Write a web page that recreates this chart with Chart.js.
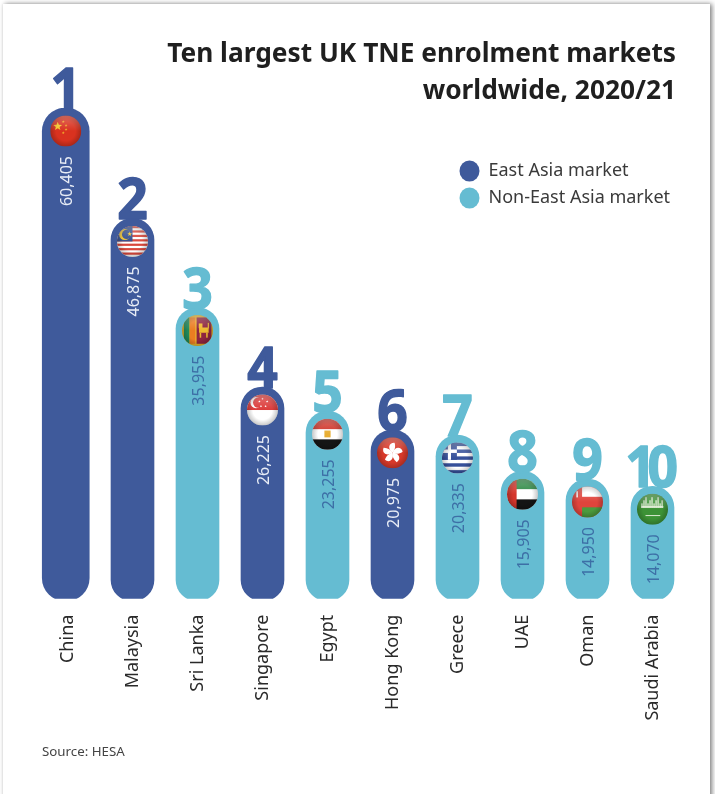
<!DOCTYPE html>
<html>
<head>
<meta charset="utf-8">
<title>Ten largest UK TNE enrolment markets worldwide, 2020/21</title>
<script src="https://cdn.jsdelivr.net/npm/chart.js@4"></script>
<style>
  html, body { margin: 0; padding: 0; background: #fff; overflow: hidden; }
  #stage { position: relative; width: 715px; height: 794px; overflow: hidden; }
  #sheet { position: absolute; left: 3px; top: 4px; width: 707px; height: 900px; background: #fff;
           box-shadow: 2px 0 5px rgba(0,0,0,.5), 0 0 2px rgba(0,0,0,.06); }
  canvas { position: absolute; left: 0; top: 0; }
</style>
</head>
<body>
<div id="stage">
  <div id="sheet"></div>
  <canvas id="chart" width="715" height="794"></canvas>
</div>
<script>
const categories = ['China', 'Malaysia', 'Sri Lanka', 'Singapore', 'Egypt', 'Hong Kong', 'Greece', 'UAE', 'Oman', 'Saudi Arabia'];
const eastAsia    = [60405, 46875, null, 26225, null, 20975, null, null, null, null];
const nonEastAsia = [null, null, 35955, null, 23255, null, 20335, 15905, 14950, 14070];
const ranks = ['1', '2', '3', '4', '5', '6', '7', '8', '9', '10'];
const titleLines = ['Ten largest UK TNE enrolment markets', 'worldwide, 2020/21'];
const sourceNote = 'Source: HESA';

const DARK = '#3f5a9b';
const LIGHT = '#65bcd2';
const VALUE_ON_LIGHT = '#3d6fa6';
const BODY_FONT = '"Noto Sans", sans-serif';

// Small painters for the round flags; each fills the square -r..r around the origin.
function rect(c, col, x, y, w, h) { c.fillStyle = col; c.fillRect(x, y, w, h); }
function dot(c, col, x, y, r) { c.fillStyle = col; c.beginPath(); c.arc(x, y, r, 0, Math.PI * 2); c.fill(); }
function star(c, col, x, y, r, rot) {
  c.fillStyle = col; c.beginPath();
  for (let i = 0; i < 10; i++) {
    const a = (rot || 0) - Math.PI / 2 + i * Math.PI / 5, q = i % 2 ? r * 0.42 : r;
    c.lineTo(x + q * Math.cos(a), y + q * Math.sin(a));
  }
  c.closePath(); c.fill();
}
const flags = {
  China(c, r) {
    rect(c, '#d9321f', -r, -r, 2 * r, 2 * r);
    star(c, '#f5c62c', -r * 0.52, -r * 0.3, r * 0.3);
    [[-0.16, -0.6], [0.02, -0.36], [0.02, -0.1], [-0.16, 0.12]].forEach(p => star(c, '#f0a92a', p[0] * r, p[1] * r, r * 0.1));
  },
  Malaysia(c, r) {
    rect(c, '#fff', -r, -r, 2 * r, 2 * r);
    for (let i = 0; i < 7; i++) rect(c, '#d8473c', -r, -r + i * 2 * r * 2 / 14, 2 * r, r / 7);
    rect(c, '#36508f', -r, -r, r, r);
    dot(c, '#f1c533', -r * 0.5, -r * 0.45, r * 0.36);
    dot(c, '#36508f', -r * 0.38, -r * 0.45, r * 0.3);
    star(c, '#f1c533', -r * 0.18, -r * 0.48, r * 0.16);
  },
  'Sri Lanka'(c, r) {
    rect(c, '#e9b52c', -r, -r, 2 * r, 2 * r);
    rect(c, '#1f8a5a', -r * 0.88, -r * 0.85, r * 0.36, r * 1.7);
    rect(c, '#ea7d22', -r * 0.5, -r * 0.85, r * 0.36, r * 1.7);
    rect(c, '#8e2440', -r * 0.06, -r * 0.85, r * 0.96, r * 1.7);
    c.fillStyle = '#eeb92f';
    c.fillRect(r * 0.1, -r * 0.2, r * 0.62, r * 0.34);
    c.fillRect(r * 0.14, r * 0.14, r * 0.1, r * 0.32);
    c.fillRect(r * 0.56, r * 0.14, r * 0.1, r * 0.32);
    c.fillRect(r * 0.08, -r * 0.46, r * 0.24, r * 0.3);
    c.fillRect(r * 0.66, -r * 0.5, r * 0.08, r * 0.36);
  },
  Singapore(c, r) {
    rect(c, '#fff', -r, -r, 2 * r, 2 * r);
    rect(c, '#dc3b3a', -r, -r, 2 * r, r);
    dot(c, '#fff', -r * 0.42, -r * 0.48, r * 0.36);
    dot(c, '#dc3b3a', -r * 0.28, -r * 0.48, r * 0.33);
    [[-0.1, -0.72], [0.2, -0.55], [0.1, -0.24], [-0.2, -0.24], [-0.3, -0.55]].forEach(p => star(c, '#fff', p[0] * r + r * 0.1, p[1] * r, r * 0.08));
  },
  Egypt(c, r) {
    rect(c, '#fff', -r, -r, 2 * r, 2 * r);
    rect(c, '#cf3429', -r, -r, 2 * r, r * 0.67);
    rect(c, '#151515', -r, r * 0.33, 2 * r, r * 0.67);
    c.fillStyle = '#e8ae33';
    c.fillRect(-r * 0.2, -r * 0.24, r * 0.4, r * 0.44);
  },
  'Hong Kong'(c, r) {
    rect(c, '#d7392a', -r, -r, 2 * r, 2 * r);
    for (let i = 0; i < 5; i++) {
      c.save(); c.rotate(i * Math.PI * 2 / 5 + 0.2);
      c.fillStyle = '#fff';
      c.beginPath();
      c.moveTo(0, 0);
      c.bezierCurveTo(-r * 0.42, -r * 0.2, -r * 0.34, -r * 0.62, 0, -r * 0.66);
      c.bezierCurveTo(r * 0.14, -r * 0.42, r * 0.1, -r * 0.18, 0, 0);
      c.fill();
      c.restore();
    }
  },
  Greece(c, r) {
    rect(c, '#fff', -r, -r, 2 * r, 2 * r);
    for (let i = 0; i < 5; i++) rect(c, '#36509a', -r, -r + i * 2 * r * 2 / 9, 2 * r, 2 * r / 9);
    const s = 2 * r * 5 / 9;
    rect(c, '#36509a', -r, -r, r * 0.96, s);
    rect(c, '#fff', -r, -r + s * 0.4, r * 0.96, s * 0.2);
    rect(c, '#fff', -r + r * 0.38, -r, r * 0.2, s);
  },
  UAE(c, r) {
    rect(c, '#fff', -r, -r, 2 * r, 2 * r);
    rect(c, '#2f8a46', -r, -r, 2 * r, r * 0.67);
    rect(c, '#141414', -r, r * 0.33, 2 * r, r * 0.67);
    rect(c, '#d5362d', -r, -r, r * 0.62, 2 * r);
  },
  Oman(c, r) {
    rect(c, '#e0443c', -r, -r, 2 * r, 2 * r);
    rect(c, '#fff', -r * 0.35, -r, r * 1.35, r * 0.66);
    rect(c, '#4c9a3e', -r * 0.35, r * 0.34, r * 1.35, r * 0.66);
    rect(c, '#fff', -r * 0.72, -r * 0.7, r * 0.1, r * 0.4);
  },
  'Saudi Arabia'(c, r) {
    rect(c, '#3d9236', -r, -r, 2 * r, 2 * r);
    c.fillStyle = '#e7efdc';
    for (let i = 0; i < 11; i++) {
      const h = r * (0.3 + 0.2 * ((i * 7) % 3));
      c.fillRect(-r * 0.72 + i * r * 0.13, -r * 0.08 - h, r * 0.08, h);
    }
    c.fillRect(-r * 0.72, -r * 0.2, r * 1.42, r * 0.1);
    c.fillRect(-r * 0.45, r * 0.38, r * 0.95, r * 0.06);
  }
};

// Ball shading shared by all the flags.
function gloss(c, r) {
  const dark = c.createRadialGradient(0, 0, r * 0.62, 0, 0, r);
  dark.addColorStop(0, 'rgba(0,0,0,0)');
  dark.addColorStop(1, 'rgba(0,0,0,.22)');
  c.fillStyle = dark; c.fillRect(-r, -r, 2 * r, 2 * r);
  const shine = c.createLinearGradient(0, -r, 0, 0);
  shine.addColorStop(0, 'rgba(255,255,255,.28)');
  shine.addColorStop(1, 'rgba(255,255,255,0)');
  c.fillStyle = shine; c.fillRect(-r, -r, 2 * r, r);
}

// Bars keep their own value; this picks the element for a category from either series.
function barAt(chart, index) {
  const ds = eastAsia[index] !== null ? 0 : 1;
  return chart.getDatasetMeta(ds).data[index];
}

const pillDecor = {
  id: 'pillDecor',
  afterLayout(chart) {
    // Title, source and key sit on the sheet's own margins, not the plot's.
    chart.titleBlock.right = 676;
    const src = chart.boxes.find(b => b.options && b.options.text === sourceNote);
    if (src) src.left = 42;
    const lg = chart.legend;
    const dx = 450.5 - lg.left, dy = 153;
    lg.left += dx; lg.right += dx; lg.top += dy; lg.bottom += dy;
  },
  afterDatasetsUpdate(chart) {
    // The leading bar is a little wider than the others.
    const lead = barAt(chart, 0);
    lead.width = 47;
    lead.x -= 1.75;
  },
  afterDatasetsDraw(chart) {
    const c = chart.ctx;
    categories.forEach((name, i) => {
      const bar = barAt(chart, i);
      const value = eastAsia[i] !== null ? eastAsia[i] : nonEastAsia[i];
      const isEast = eastAsia[i] !== null;

      // Rank numeral standing on the top of the bar.
      c.save();
      c.fillStyle = c.strokeStyle = isEast ? DARK : LIGHT;
      c.lineWidth = 1.5;
      c.lineJoin = 'round';
      c.font = '700 58px ' + BODY_FONT;
      c.textAlign = 'center';
      c.textBaseline = 'alphabetic';
      c.translate(bar.x + (ranks[i].length > 1 ? -5 : 0), bar.y + 1);
      c.scale(0.92, 1);
      if (ranks[i].length > 1) c.letterSpacing = '-9px';
      c.fillText(ranks[i], 0, 0);
      c.strokeText(ranks[i], 0, 0);
      c.restore();

      // Round flag near the top of the bar.
      const r = 15.5;
      c.save();
      c.translate(bar.x, bar.y + 23);
      c.beginPath(); c.arc(0, 0, r, 0, Math.PI * 2); c.clip();
      flags[name](c, r);
      gloss(c, r);
      c.restore();

      // Value running up the bar.
      c.save();
      c.translate(bar.x + 1.5, bar.y + 48);
      c.rotate(-Math.PI / 2);
      c.fillStyle = isEast ? '#e8edf6' : VALUE_ON_LIGHT;
      c.font = '400 16px ' + BODY_FONT;
      c.textAlign = 'right';
      c.textBaseline = 'middle';
      c.fillText(value.toLocaleString('en-GB'), 0, 0);
      c.restore();
    });
  }
};

new Chart(document.getElementById('chart'), {
  type: 'bar',
  data: {
    labels: categories,
    datasets: [
      { label: 'East Asia market', data: eastAsia, backgroundColor: DARK },
      { label: 'Non-East Asia market', data: nonEastAsia, backgroundColor: LIGHT }
    ]
  },
  plugins: [pillDecor],
  options: {
    responsive: false,
    animation: false,
    events: [],
    layout: { autoPadding: false, padding: { left: 35, right: 30, top: 0, bottom: 0 } },
    datasets: { bar: { grouped: false, barThickness: 43, borderRadius: 999, borderSkipped: false } },
    scales: {
      x: {
        grid: { display: false, drawTicks: false },
        border: { display: false },
        ticks: { maxRotation: 90, minRotation: 90, autoSkip: false, padding: 16, color: '#2a2a2a',
                 font: { family: BODY_FONT, size: 18 } },
        afterFit(scale) { scale.height = 145.4; }
      },
      y: { display: false, min: 300, max: 60405 }
    },
    plugins: {
      title: {
        display: true, text: titleLines, align: 'end', color: '#1f1f1f',
        font: { family: BODY_FONT, size: 26.3, weight: '700', lineHeight: 37 / 26.3 },
        padding: { top: 36, bottom: -2 }
      },
      subtitle: {
        display: true, text: sourceNote, position: 'bottom', align: 'start', color: '#444',
        font: { family: BODY_FONT, size: 13.3, lineHeight: 1.2 },
        padding: { top: 0, bottom: 34 }
      },
      legend: {
        position: 'chartArea', align: 'start',
        labels: { usePointStyle: true, pointStyle: 'circle', pointStyleWidth: 20, boxHeight: 15, padding: 9,
                  color: '#3a3a3a', font: { family: BODY_FONT, size: 18 } }
      },
      tooltip: { enabled: false }
    }
  }
});
</script>
</body>
</html>
